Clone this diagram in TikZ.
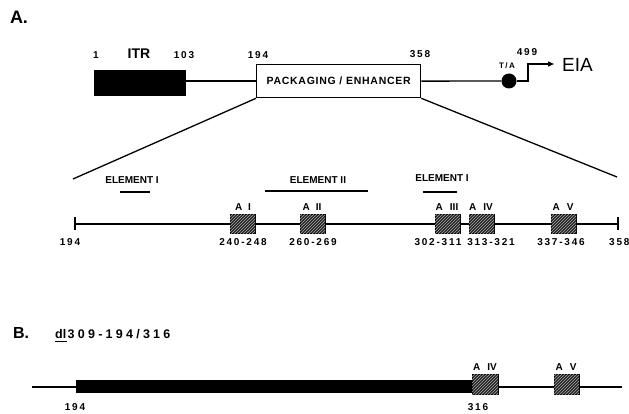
\documentclass[tikz,border=0pt]{standalone}
\usepackage{fontspec}
\setmainfont{Liberation Sans}
\newfontfamily\spaced{Liberation Sans}[LetterSpace=18]
\newfontfamily\spacedw{Liberation Sans}[LetterSpace=26]
\newfontfamily\spacedn{Liberation Sans}[LetterSpace=7]
\usetikzlibrary{patterns,calc,arrows.meta}
\tikzset{
  num/.style={font=\spaced\bfseries\fontsize{10}{11}\selectfont, inner sep=0pt},
  lab/.style={font=\bfseries\fontsize{10}{11}\selectfont, inner sep=0pt},
  seg/.style={line width=1.3pt},
  abox/.style={draw, line width=1pt, fill=black!85, minimum width=25pt, minimum height=18pt, inner sep=0pt,
    postaction={pattern=north east lines, pattern color=black!35}},
  bar/.style={line width=2pt},
}
\begin{document}
\begin{tikzpicture}[x=1pt,y=-1pt]
\useasboundingbox (0,0) rectangle (629,414);
% ---------- A ----------
\node[font=\bfseries\fontsize{18}{20}\selectfont, inner sep=0pt] (tA) at (19,17) {A.};
\node[draw, fill=black, minimum width=91pt, minimum height=25pt, inner sep=0pt, anchor=north west] (itr) at (94,70) {};
\node[draw, line width=1.3pt, fill=white, minimum width=164pt, minimum height=33pt, inner sep=0pt, anchor=north west,
      font=\spacedn\bfseries\fontsize{10.5}{11}\selectfont] (pack) at (256,64) {PACKAGING / ENHANCER};
\node[num] (n1) at (96,55) {1};
\node[font=\bfseries\fontsize{14}{15}\selectfont, inner sep=0pt] (litr) at (139,54) {ITR};
\node[num] (n103) at (184,55) {103};
\node[num] (n194) at (258,55) {194};
\node[num] (n358) at (420,54) {358};
\node[num] (n499) at (527,52) {499};
\node[font=\spaced\bfseries\fontsize{8}{9}\selectfont, inner sep=0pt] (nta) at (507,66) {T/A};
\node[circle, fill=black, minimum size=15pt, inner sep=0pt] (ta) at (509,81) {};
\node[font=\fontsize{19}{21}\selectfont, inner sep=0pt, anchor=west] (eia) at (562,65) {EIA};
\coordinate (p1) at (528,64);
\draw[seg] (itr.east |- pack.west) -- (pack.west);
\draw[seg] (pack.east) -- (ta);
\draw[seg, -{Triangle[length=6pt,width=5pt]}] (ta.east) -| (p1) -- ($(eia.west)+(-8,-1)$);
% expansion
\coordinate (L) at (73,179);
\coordinate (R) at (617,177);
\draw[seg] (pack.south west) -- (L);
\draw[seg] (pack.south east) -- (R);
% elements
\node[lab] (e1) at (132,180) {ELEMENT I};
\node[lab] (e2) at (318,180) {ELEMENT II};
\node[lab] (e3) at (442,178) {ELEMENT I};
\coordinate (e1a) at (120,192); \coordinate (e1b) at (150,192);
\coordinate (e2a) at (265,191); \coordinate (e2b) at (368,191);
\coordinate (e3a) at (423,192); \coordinate (e3b) at (457,192);
\draw[bar] (e1a) -- (e1b);
\draw[bar] (e2a) -- (e2b);
\draw[bar] (e3a) -- (e3b);
% main line
\coordinate (m0) at (75,224);
\coordinate (m1) at (618,224);
\draw[seg] (m0) -- (m1);
\draw[seg] ($(m0)+(0,-6.5)$) -- ($(m0)+(0,6.5)$);
\draw[seg] ($(m1)+(0,-6.5)$) -- ($(m1)+(0,6.5)$);
\node[abox] (a1) at (242.5,224) {};
\node[abox] (a2) at (312.5,224) {};
\node[abox] (a3) at (447.5,224) {};
\node[abox] (a4) at (481.5,224) {};
\node[abox] (a5) at (563.5,224) {};
\node[lab] (la1) at (243,207) {A\hspace{6pt}I};
\node[lab] (la2) at (312,207) {A\hspace{6pt}II};
\node[lab] (la3) at (447,207) {A\hspace{7pt}III};
\node[lab] (la4) at (481,207) {A\hspace{7pt}IV};
\node[lab] (la5) at (563,207) {A\hspace{7pt}V};
\node[num] (r1) at (243,242) {240-248};
\node[num] (r2) at (313,242) {260-269};
\node[num] (r3) at (438,242) {302-311};
\node[num] (r4) at (491,242) {313-321};
\node[num] (r5) at (561,242) {337-346};
\node[num] (s194) at (70,242) {194};
\node[num, anchor=west] (s358) at (609,242) {358};
% ---------- B ----------
\node[font=\bfseries\fontsize{16}{18}\selectfont, inner sep=0pt] (tB) at (21,333) {B.};
\node[font=\bfseries\fontsize{12.5}{14}\selectfont, inner sep=0pt, anchor=base west] (dlp) at (55,338) {dl};
\node[font=\spacedw\bfseries\fontsize{12.5}{14}\selectfont, inner sep=0pt, anchor=base west] (dlr) at ($(dlp.base east)+(1,0)$) {309-194/316};
\draw[line width=1.4pt] ($(dlp.base west)+(0,3.5)$) -- ($(dlp.base east)+(0,3.5)$);
\coordinate (b0) at (32,387);
\coordinate (b1) at (622,387);
\draw[seg] (b0) -- (b1);
\node[fill=black, minimum width=397pt, minimum height=13pt, inner sep=0pt, anchor=west] (del) at (76,386) {};
\node[abox, minimum width=26pt, minimum height=20pt] (b4) at (485,384) {};
\node[abox, minimum width=25pt, minimum height=20pt] (b5) at (566.5,384) {};
\node[lab] (lb4) at (485,367) {A\hspace{7pt}IV};
\node[lab] (lb5) at (566,367) {A\hspace{7pt}V};
\node[num] (t194) at (75,407) {194};
\node[num] (t316) at (478,407) {316};
\end{tikzpicture}
\end{document}
